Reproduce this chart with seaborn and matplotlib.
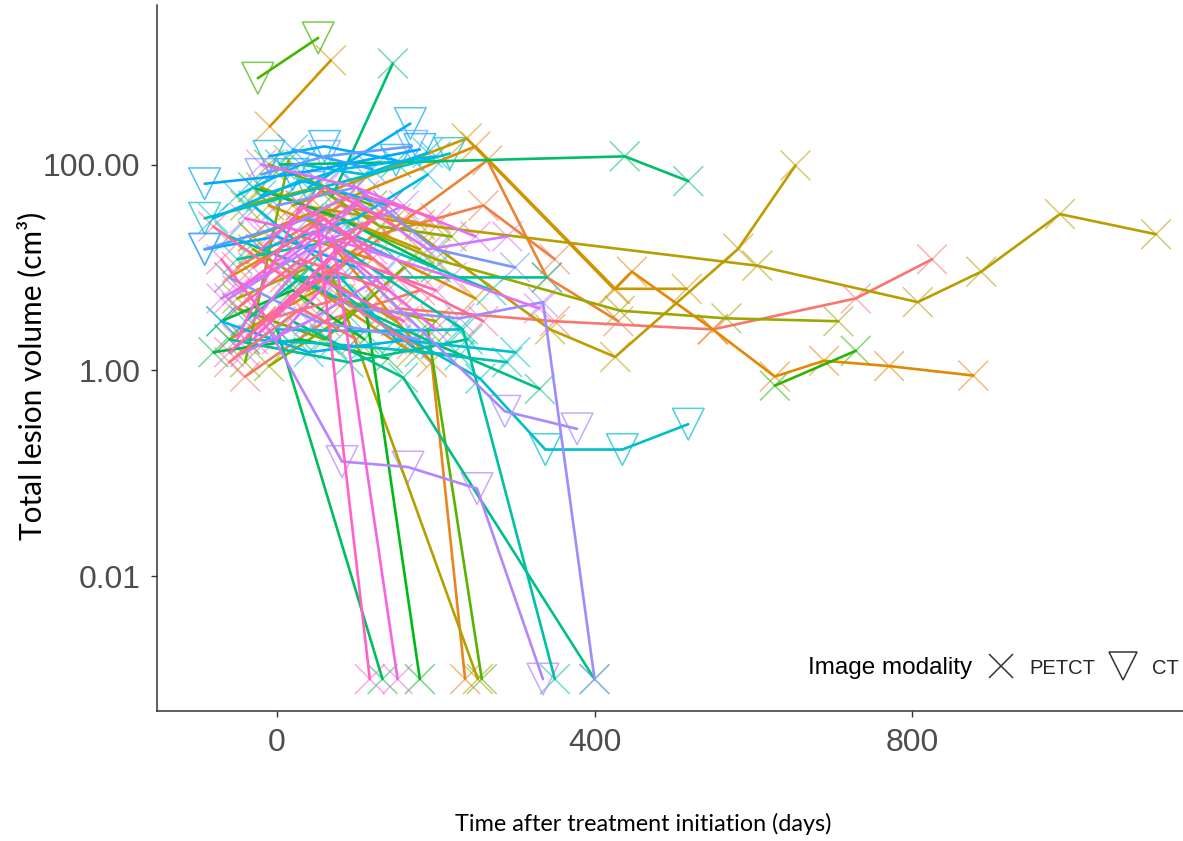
import numpy as np
import pandas as pd
import matplotlib
matplotlib.use("Agg")
import matplotlib.pyplot as plt
from matplotlib.lines import Line2D
import seaborn as sns

# ---------------- data ----------------
# one inner list per patient; P = PETCT, C = CT
days_by_patient = [
    [150, 350, 549, 729, 825],
    [-40, 60, 180],
    [-50, 80, 200],
    [-20, 120, 260, 350],
    [40, 265, 340, 430],
    [60, 195, 237],
    [-30, 250, 426, 447, 549, 627, 689, 771, 877],
    [-60, 30, 120],
    [-10, 90, 250],
    [-60, 50, 170],
    [-9, 68],
    [20, 239, 424, 516],
    [-30, 60, 180],
    [150, 344, 426, 581, 653],
    [30, 180, 605, 807, 887, 986, 1107],
    [70, 253],
    [-50, 40, 150],
    [-30, 70, 200],
    [-20, 200, 432, 566, 707],
    [-10, 100],
    [-40, 50, 130, 220],
    [-40, 15],
    [-50, 60, 160],
    [-10, 120],
    [190, 258],
    [-24, 52],
    [627, 729],
    [110, 180],
    [-70, 20, 110],
    [-80, 30, 140],
    [-30, 80, 200],
    [0, 133],
    [4, 150, 438, 518],
    [70, 146],
    [20, 200, 331],
    [20, 159, 400],
    [-60, 90, 240],
    [-40, 30, 340],
    [60, 234, 350],
    [-50, 100, 270],
    [-60, 40, 180, 290],
    [-40, 70, 230],
    [-91, 218],
    [30, 256, 338, 435, 518],
    [-30, 80, 150, 300],
    [0, 110, 230],
    [-50, 30, 110, 190],
    [-20, 100, 190],
    [-20, 80, 200],
    [-80, 30, 140],
    [-70, 40, 170],
    [40, 168],
    [-10, 60, 150],
    [-91, 0, 100],
    [-91, 20, 180],
    [20, 120],
    [-91, 40, 150],
    [-20, 60, 170],
    [0, 100, 200, 300],
    [-60, 50, 180],
    [100, 230, 335, 400],
    [100, 287, 378],
    [-10, 82, 165, 252, 335],
    [-60, 40, 160],
    [-40, 40, 130],
    [-10, 90, 190, 290],
    [-70, 0, 100],
    [-30, 60, 220, 330],
    [-20, 100, 250],
    [0, 80],
    [-40, 60, 200],
    [70, 152],
    [-50, 30, 120],
    [-50, 20, 110, 200],
    [-30, 50, 160],
    [50, 117],
    [-70, -10, 90],
    [-40, 140],
    [-60, 20, 90, 200],
    [-20, 60, 150],
    [-30, 60, 150, 260],
    [-50, 30, 140],
    [-80, 10, 120],
    [-20, 80, 170],
    [-60, 30, 100],
]

volume_by_patient = [
    [4, 3, 2.5, 5, 12],
    [0.87, 3, 6],
    [10, 40, 25],
    [3, 20, 40, 12],
    [6, 110, 8, 3],
    [20, 1.2, 0.001],
    [20, 150, 6.2, 9.1, 2.5, 0.87, 1.24, 1.1, 0.89],
    [8, 20, 12],
    [40, 20, 5],
    [2, 6, 1.5],
    [234, 1030],
    [40, 179, 6.2, 6.2],
    [20, 35, 15],
    [30, 2.5, 1.35, 15.2, 98],
    [40, 26, 10.4, 4.6, 9.1, 33, 21],
    [8, 0.001],
    [5, 10, 3],
    [15, 5, 3],
    [60, 12, 3.8, 3.2, 3.0],
    [1.1, 4],
    [40, 60, 25, 20],
    [1.2, 110],
    [4, 2, 10],
    [100, 40],
    [2.5, 0.001],
    [690, 1700],
    [0.71, 1.55],
    [5, 0.001],
    [3, 6, 2],
    [1.5, 2, 1.3],
    [60, 30, 10],
    [2.5, 0.001],
    [100, 105, 120, 69],
    [50, 960],
    [8, 1.8, 0.66],
    [3, 0.85, 0.001],
    [2, 1.2, 2.0],
    [3, 8, 8],
    [20, 2.5, 0.001],
    [12, 20, 6],
    [20, 10, 1.5, 1.2],
    [2, 1.8, 1.4],
    [30, 128],
    [8, 0.83, 0.17, 0.17, 0.30],
    [40, 8, 2, 1.5],
    [2.5, 2.4, 2.5],
    [50, 100, 80, 130],
    [15, 30, 80],
    [50, 90, 120],
    [30, 70, 40],
    [3, 1.5, 2],
    [60, 250],
    [120, 150, 110],
    [15, 20, 10],
    [65, 80, 140],
    [140, 90],
    [15, 30, 12],
    [80, 120, 150],
    [40, 60, 15, 10],
    [8, 3, 2],
    [4, 3.2, 4.6, 0.001],
    [10, 0.40, 0.27],
    [2.5, 0.13, 0.115, 0.071, 0.001],
    [5, 15, 40],
    [1.5, 3, 8],
    [20, 50, 15, 20],
    [5, 10, 40],
    [3, 20, 8, 4],
    [100, 60, 20],
    [2, 10],
    [30, 20, 2.5],
    [20, 0.001],
    [2, 40, 15],
    [6, 15, 50, 30],
    [2, 8, 3],
    [30, 0.001],
    [12, 3, 20],
    [2, 40],
    [1.5, 5, 12, 6],
    [15, 60, 25],
    [10, 30, 8, 3],
    [4, 12, 6],
    [25, 8, 30],
    [3, 5, 1.8],
    [1.2, 4, 2],
]

modality_by_patient = [
    "PPPPP", "PPP", "PPP", "PPPP", "PPPP", "PPP", "PPPPPPPPP", "PPP", "PPP", "PPP",
    "PP", "PPPP", "PPP", "PPPPP", "PPPPPPP", "PP", "PPP", "PPP", "PPPPP", "PP",
    "PPPP", "PP", "PPP", "PP", "PP", "CC", "PP", "PP", "PPP", "PPP",
    "PPP", "PP", "PPPP", "PP", "PPP", "PPP", "PPP", "PPP", "PPP", "PPP",
    "PPPP", "PPP", "CC", "PPCCC", "PPPP", "PPP", "PPPP", "PPP", "PPP", "PPP",
    "PPP", "CC", "CCC", "CPP", "CCC", "PP", "CPP", "CCC", "PPPP", "PPP",
    "PPPP", "PCC", "PCCCC", "PPP", "PPP", "PPPP", "PPP", "PPPP", "PPP", "PP",
    "PPP", "PP", "PPP", "PPPP", "PPP", "PP", "PPP", "PP", "PPPP", "PPP",
    "PPPP", "PPP", "PPP", "PPP", "PPP",
]

modality_names = {"P": "PETCT", "C": "CT"}
x_ticks = [0, 400, 800]
y_ticks = [0.01, 1.0, 100.0]
y_tick_labels = ["0.01", "1.00", "100.00"]

# ---------------- build long table ----------------
rows = []
for pid, (ds, vs, ms) in enumerate(zip(days_by_patient, volume_by_patient, modality_by_patient)):
    for d, v, m in zip(ds, vs, ms):
        rows.append({"patient": pid, "day": d, "volume": v, "modality": modality_names[m]})
df = pd.DataFrame(rows)
n_pat = len(days_by_patient)


def gg_hue(n, l=65, c=100):
    """ggplot2 default hue palette (HCL)."""
    hues = np.linspace(15, 375, n + 1)[:n]
    out = []
    Xn, Yn, Zn = 95.047, 100.0, 108.883
    un = 4 * Xn / (Xn + 15 * Yn + 3 * Zn)
    vn = 9 * Yn / (Xn + 15 * Yn + 3 * Zn)
    M = np.array([[3.2404542, -1.5371385, -0.4985314],
                  [-0.9692660, 1.8760108, 0.0415560],
                  [0.0556434, -0.2040259, 1.0572252]])
    for h in hues:
        hr = np.deg2rad(h)
        u, v = c * np.cos(hr), c * np.sin(hr)
        Y = Yn * ((l + 16) / 116) ** 3
        up = u / (13 * l) + un
        vp = v / (13 * l) + vn
        X = Y * 9 * up / (4 * vp)
        Z = Y * (12 - 3 * up - 20 * vp) / (4 * vp)
        rgb = M @ (np.array([X, Y, Z]) / 100)
        rgb = np.where(rgb <= 0.0031308, 12.92 * rgb,
                       1.055 * np.clip(rgb, 0, None) ** (1 / 2.4) - 0.055)
        out.append(tuple(np.clip(rgb, 0, 1)))
    return out


palette = gg_hue(n_pat)
hue_order = list(range(n_pat))

# ---------------- figure ----------------
sns.set_theme(style="white")
plt.rcParams["font.family"] = ["Liberation Sans", "DejaVu Sans"]

fig = plt.figure(figsize=(11.83, 8.41), dpi=100)
ax = fig.add_axes([157 / 1183, 1 - 711 / 841, 1 - 157 / 1183, (711 - 5) / 841])

sns.lineplot(data=df, x="day", y="volume", hue="patient", hue_order=hue_order,
             palette=palette, estimator=None, sort=True, legend=False,
             linewidth=1.9, ax=ax)

pet = df[df["modality"] == "PETCT"]
ct = df[df["modality"] == "CT"]
sns.scatterplot(data=pet, x="day", y="volume", hue="patient", hue_order=hue_order,
                palette=palette, marker="x", s=460, linewidth=1.1, alpha=0.55,
                legend=False, ax=ax)
sns.scatterplot(data=ct, x="day", y="volume", hue="patient", hue_order=hue_order,
                palette=palette, marker="v", s=520, linewidth=1.1, alpha=0.7,
                legend=False, ax=ax)
coll = ax.collections[-1]
fc = coll.get_facecolors()
coll.set_edgecolors(fc)
coll.set_facecolors("none")

ax.set_yscale("log")
ax.set_xlim(-151, 1141)
ax.set_ylim(10 ** -3.31, 10 ** 3.55)
ax.set_xticks(x_ticks)
ax.set_xticklabels([str(t) for t in x_ticks])
ax.set_yticks(y_ticks)
ax.set_yticklabels(y_tick_labels)
ax.yaxis.set_minor_locator(matplotlib.ticker.NullLocator())

for side in ["top", "right"]:
    ax.spines[side].set_visible(False)
for side in ["left", "bottom"]:
    ax.spines[side].set_color("#333333")
    ax.spines[side].set_linewidth(1.1)
ax.tick_params(axis="both", which="major", length=4, width=1.0, color="#333333",
               labelsize=23, labelcolor="#4D4D4D", pad=8, left=True, bottom=True)

ax.set_xlabel("Time after treatment initiation (days)", fontsize=16.8,
              family=["Lato", "DejaVu Sans"], color="black")
ax.set_ylabel("Total lesion volume (cm\u00b3)", fontsize=21.5,
              family=["Lato", "DejaVu Sans"], color="black")
ax.xaxis.set_label_coords((643 - 157) / 1026, -0.145)
ax.yaxis.set_label_coords(-0.108, 0.475)

# legend
ax.text((808 - 157) / 1026, (711 - 668) / 706, "Image modality", transform=ax.transAxes,
        fontsize=17.5, color="black", ha="left", va="center")
handles = [
    Line2D([], [], ls="", marker="x", markersize=17, markeredgewidth=1.1, color="#333333"),
    Line2D([], [], ls="", marker="v", markersize=20, markeredgewidth=1.1, color="#333333",
           markerfacecolor="none"),
]
ax.legend(handles, ["PETCT", "CT"], loc="center left",
          bbox_to_anchor=((989 - 157) / 1026, (711 - 668) / 706),
          ncol=2, frameon=False, fontsize=14.5, handlelength=1.2, handletextpad=0.8,
          columnspacing=0.8, borderpad=0, borderaxespad=0)

fig.savefig("out.png", dpi=100)
